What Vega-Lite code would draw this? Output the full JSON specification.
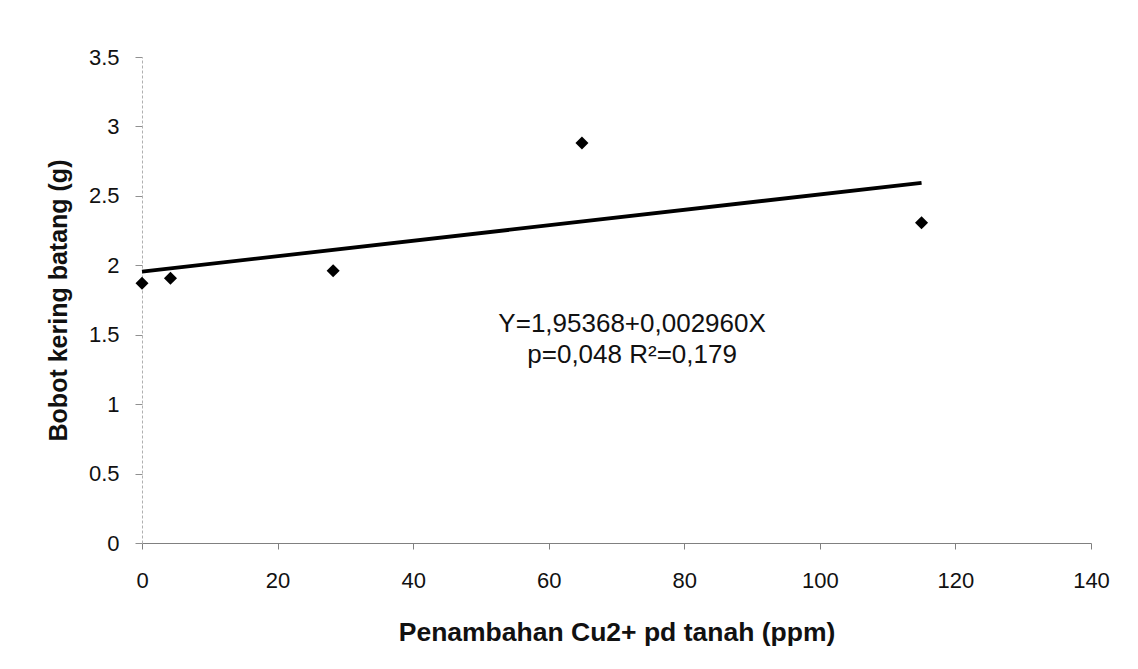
{
  "$schema": "https://vega.github.io/schema/vega-lite/v6.json",
  "width": 949,
  "height": 486,
  "autosize": {"type": "none"},
  "padding": {"left": 142, "top": 57, "right": 47, "bottom": 126},
  "background": "#ffffff",
  "config": {
    "font": "Liberation Sans",
    "view": {"stroke": null, "fill": "#ffffff"}
  },
  "datasets": {
    "points": [
      {"cu": 0, "bobot": 1.87},
      {"cu": 4.2, "bobot": 1.906},
      {"cu": 28.2, "bobot": 1.96},
      {"cu": 64.9, "bobot": 2.88},
      {"cu": 115, "bobot": 2.306}
    ],
    "trend": [
      {"cu": 0, "bobot": 1.954},
      {"cu": 115, "bobot": 2.594}
    ],
    "notes": [
      {"cu": 72.3, "bobot": 1.577, "label": "Y=1,95368+0,002960X"},
      {"cu": 72.3, "bobot": 1.353, "label": "p=0,048 R²=0,179"}
    ]
  },
  "encoding": {
    "x": {
      "field": "cu",
      "type": "quantitative",
      "scale": {"domain": [0, 140], "nice": false, "zero": true},
      "axis": {
        "title": "Penambahan Cu2+ pd tanah (ppm)",
        "values": [0, 20, 40, 60, 80, 100, 120, 140],
        "grid": false,
        "labelFlush": false,
        "labelOverlap": false,
        "domainColor": "#808080",
        "tickColor": "#808080",
        "tickSize": 6,
        "labelPadding": 21,
        "labelFontSize": 22,
        "labelColor": "#111111",
        "titleFontSize": 26.5,
        "titleFontWeight": "bold",
        "titleColor": "#111111",
        "titlePadding": 28
      }
    },
    "y": {
      "field": "bobot",
      "type": "quantitative",
      "scale": {"domain": [0, 3.5], "nice": false},
      "axis": {
        "title": "Bobot kering batang (g)",
        "values": [0, 0.5, 1, 1.5, 2, 2.5, 3, 3.5],
        "format": "~g",
        "grid": false,
        "labelFlush": false,
        "labelOverlap": false,
        "domainColor": "#b0b0b0",
        "domainDash": [3, 2],
        "tickColor": "#909090",
        "tickSize": 7,
        "labelPadding": 16,
        "labelFontSize": 22,
        "labelColor": "#111111",
        "titleFontSize": 25,
        "titleFontWeight": "bold",
        "titleColor": "#111111",
        "titlePadding": 17
      }
    }
  },
  "layer": [
    {
      "data": {"name": "trend"},
      "mark": {"type": "line", "color": "#000000", "strokeWidth": 3.8}
    },
    {
      "data": {"name": "points"},
      "mark": {"type": "point", "shape": "diamond", "filled": true, "color": "#000000", "size": 170, "opacity": 1}
    },
    {
      "data": {"name": "notes"},
      "mark": {"type": "text", "fontSize": 26, "color": "#111111", "align": "center", "baseline": "middle"},
      "encoding": {"text": {"field": "label"}}
    }
  ]
}
